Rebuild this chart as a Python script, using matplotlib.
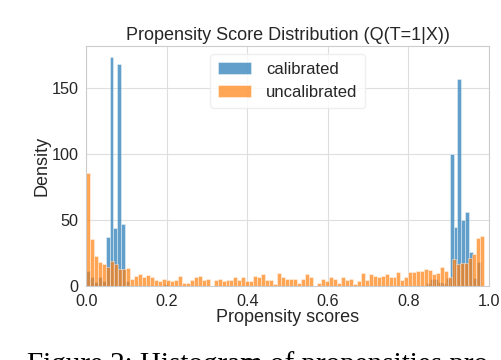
import numpy as np
import matplotlib
matplotlib.use("Agg")
import matplotlib.pyplot as plt
import seaborn as sns

# ---------------- data ----------------
# uncalibrated: 100 bins over [0, 0.9876]
uncal_range = (0.0, 0.9876)
uncal_heights = [
    85.5, 35.5, 22.7, 17.9, 16.6, 14.6, 18.9, 16.9, 12.6, 12.6,
    13.4, 5.0, 7.6, 8.8, 6.6, 8.3, 6.9, 4.3, 3.8, 5.3,
    4.5, 3.8, 4.5, 7.6, 2.3, 2.3, 4.5, 6.8, 7.6, 4.5,
    5.3, 0.0, 4.5, 5.3, 3.8, 4.5, 4.5, 6.8, 4.5, 6.8,
    3.8, 3.8, 7.6, 6.8, 9.1, 4.5, 4.5, 1.5, 9.8, 6.8,
    5.3, 5.3, 5.3, 2.3, 5.3, 9.1, 6.8, 0.0, 2.3, 5.3,
    3.8, 6.8, 5.3, 2.3, 6.8, 4.5, 5.3, 1.5, 3.8, 9.8,
    4.5, 9.1, 7.8, 6.8, 7.6, 9.1, 6.8, 6.8, 10.6, 4.5,
    6.8, 10.6, 10.6, 11.3, 11.3, 12.9, 12.1, 9.1, 9.6, 14.4,
    11.3, 7.0, 20.4, 16.6, 17.1, 17.6, 20.9, 24.2, 36.6, 37.6,
]

# calibrated: bins of width 0.0096 starting at 0
cal_bin_width = 0.0096
cal_heights = [
    11, 7, 3, 7, 4, 37.3, 173, 43.9, 168, 46.7,
    4, 0, 0, 0, 0, 0, 0, 0, 0, 0,
    1.5, 0, 0, 0, 0, 0, 0, 0, 0, 0,
    0, 0, 0, 0, 0, 0, 0, 0, 0, 0,
    0, 0, 0, 0, 0, 0, 0, 0, 0, 0,
    0, 0, 0, 0, 0, 0, 0, 0, 0, 0,
    0, 0, 0, 0, 0, 0, 0, 0, 0, 0,
    0, 0, 0, 0, 0, 0, 0, 0, 0, 0,
    0, 0, 0, 0, 0, 0, 0, 0, 2, 5,
    5, 3, 2, 6, 100, 44.6, 157, 50, 55.7, 25.7,
    6, 18,
]

labels = ["calibrated", "uncalibrated"]
title = "Propensity Score Distribution (Q(T=1|X))"
xlabel = "Propensity scores"
ylabel = "Density"
xticks = [0.0, 0.2, 0.4, 0.6, 0.8, 1.0]
yticks = [0, 50, 100, 150]
caption = "Figure 2: Histogram of propensities pro"

# ---------------- style ----------------
sns.set_style("whitegrid")
plt.rcParams["font.family"] = ["Liberation Sans", "DejaVu Sans"]

fig = plt.figure(figsize=(5.02, 3.60), dpi=100)
ax = fig.add_axes([0.172, 0.2056, 0.802, 0.667])

uncal_edges = np.linspace(uncal_range[0], uncal_range[1], len(uncal_heights) + 1)
cal_edges = np.arange(len(cal_heights) + 1) * cal_bin_width

ax.hist(cal_edges[:-1] + cal_bin_width / 2, bins=cal_edges, weights=cal_heights,
        color="#1f77b4", alpha=0.7, edgecolor="white", linewidth=0.4,
        label=labels[0])
ax.hist((uncal_edges[:-1] + uncal_edges[1:]) / 2, bins=uncal_edges,
        weights=uncal_heights, color="#ff7f0e", alpha=0.7, edgecolor="white",
        linewidth=0.4, label=labels[1])

ax.set_xlim(0, 1)
ax.set_ylim(0, 181.8)
ax.set_xticks(xticks)
ax.set_xticklabels([f"{t:.1f}" for t in xticks])
ax.set_yticks(yticks)
ax.tick_params(axis="both", labelsize=11.7, colors="0.15", pad=2)
ax.set_title(title, fontsize=13, color="0.15", pad=4)
ax.set_xlabel(xlabel, fontsize=13, color="0.15", labelpad=0)
ax.set_ylabel(ylabel, fontsize=13, color="0.15", labelpad=1)
for s in ax.spines.values():
    s.set_color("0.8")
ax.grid(True, color="0.87", linewidth=0.8)

leg = ax.legend(loc="upper center", fontsize=12, frameon=True,
                bbox_to_anchor=(0.5, 1.0), handletextpad=0.9,
                borderpad=0.45)
leg.get_frame().set_edgecolor("0.92")

fig.text(0.054, -0.034, caption, family=["Liberation Serif", "DejaVu Serif"],
         fontsize=21, color="black", ha="left", va="baseline")

fig.savefig("out.png", dpi=100)
